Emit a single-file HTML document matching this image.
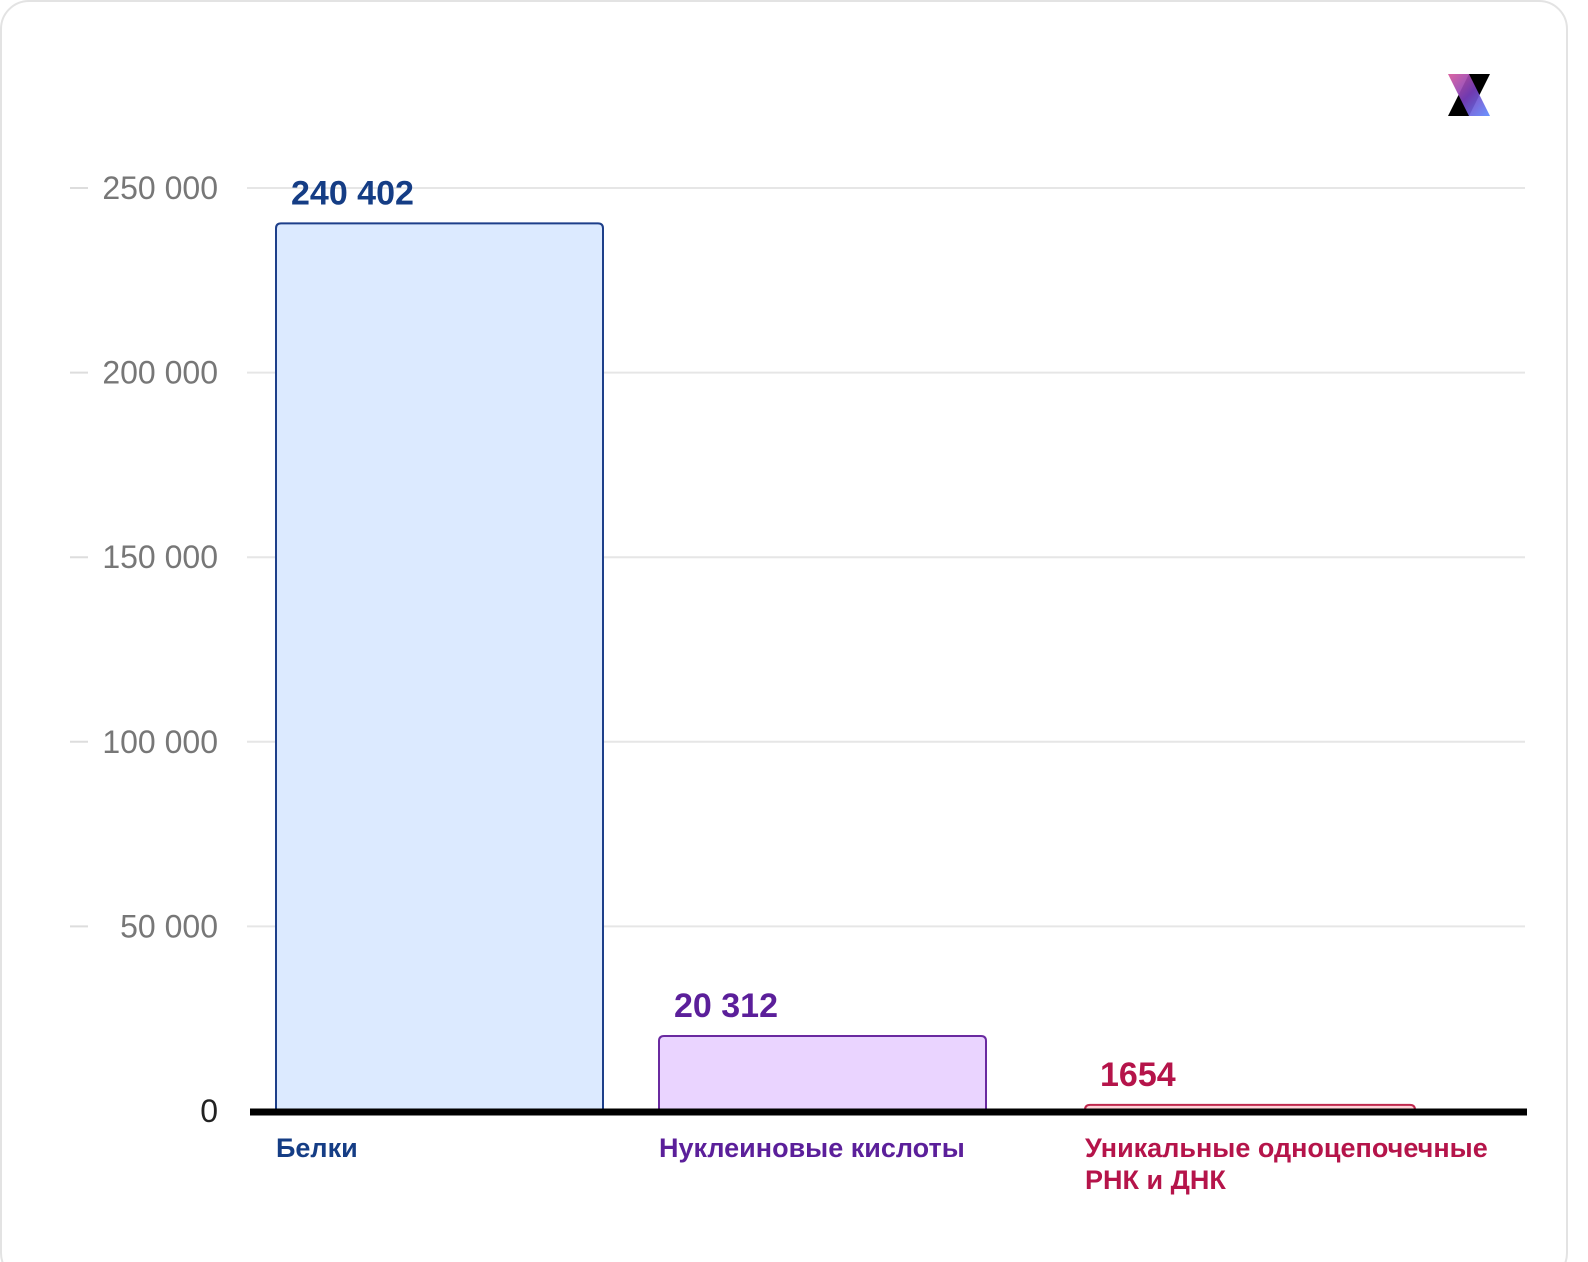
<!DOCTYPE html>
<html><head><meta charset="utf-8"><style>
body{margin:0;background:#fff;}
svg{display:block;font-family:"Liberation Sans",sans-serif;}
</style></head><body>
<svg id="chart" width="1588" height="1262">
<rect x="1" y="1" width="1566" height="1280" rx="28" fill="#fff" stroke="#e3e3e3" stroke-width="2"/>
<g>
<defs><linearGradient id="lg" x1="0" y1="0" x2="1" y2="1"><stop offset="0" stop-color="#d9589a"/><stop offset="0.5" stop-color="#7a3fc0"/><stop offset="1" stop-color="#5d8cff"/></linearGradient></defs>
<polygon points="1469,74 1490,74 1469,116 1448,116" fill="#000"/>
<polygon points="1448,74 1469,74 1490,116 1469,116" fill="url(#lg)" opacity="0.92"/>
</g>
<g id="grid"></g><g id="bars"></g>
</svg>
<script>
const categories=["Белки","Нуклеиновые кислоты","Уникальные одноцепочечные|РНК и ДНК"];
const values=[240402,20312,1654];
const valueLabels=["240 402","20 312","1654"];
const ticks=[0,50000,100000,150000,200000,250000];
const tickLabels=["0","50 000","100 000","150 000","200 000","250 000"];
const colors=[["#dceaff","#1d3f8a","#153d85"],["#ead4ff","#6a2aa0","#5b1f9a"],["#ffd3d9","#c0284e","#b5144a"]];
const NS="http://www.w3.org/2000/svg";
const y=v=>1111-v/250000*923;
const bx=[276,659,1085],bw=[327,327,330];
function mk(t,a,p){const e=document.createElementNS(NS,t);for(const k in a)e.setAttribute(k,a[k]);p.appendChild(e);return e;}
const g=document.getElementById('grid'),b=document.getElementById('bars');
ticks.forEach((t,i)=>{
 if(i>0){const l=mk('line',{x1:247,x2:1525,y1:y(t),y2:y(t),stroke:'#e6e6e6','stroke-width':2},g);
 
 
 const tk=mk('line',{x1:70,x2:88,y1:y(t),y2:y(t),stroke:'#ddd','stroke-width':2},g);
 
 }
 const tx=mk('text',{x:218,y:y(t)+11,'text-anchor':'end','font-size':32,fill:i?'#777':'#222'},g);
 tx.textContent=tickLabels[i];
 
 
});
values.forEach((v,i)=>{
 const top=y(v),c=colors[i];
 const r=mk('path',{d:`M${bx[i]},1112 V${top+5} Q${bx[i]},${top} ${bx[i]+5},${top} H${bx[i]+bw[i]-5} Q${bx[i]+bw[i]},${top} ${bx[i]+bw[i]},${top+5} V1112`,fill:c[0],stroke:c[1],'stroke-width':2},b);
 
 
 const vl=mk('text',{x:bx[i]+15,y:top-19,'font-size':34,'font-weight':'bold',fill:c[2]},b);
 vl.textContent=valueLabels[i];
 
 
 categories[i].split('|').forEach((s,j)=>{
  const cl=mk('text',{x:bx[i],y:1157+j*32,'font-size':27,'font-weight':'bold',fill:c[2]},b);
  cl.textContent=s;
  
  
 });
});
const ax=mk('line',{x1:250,x2:1527,y1:1112,y2:1112,stroke:'#000','stroke-width':7},b);


</script>
</body></html>
